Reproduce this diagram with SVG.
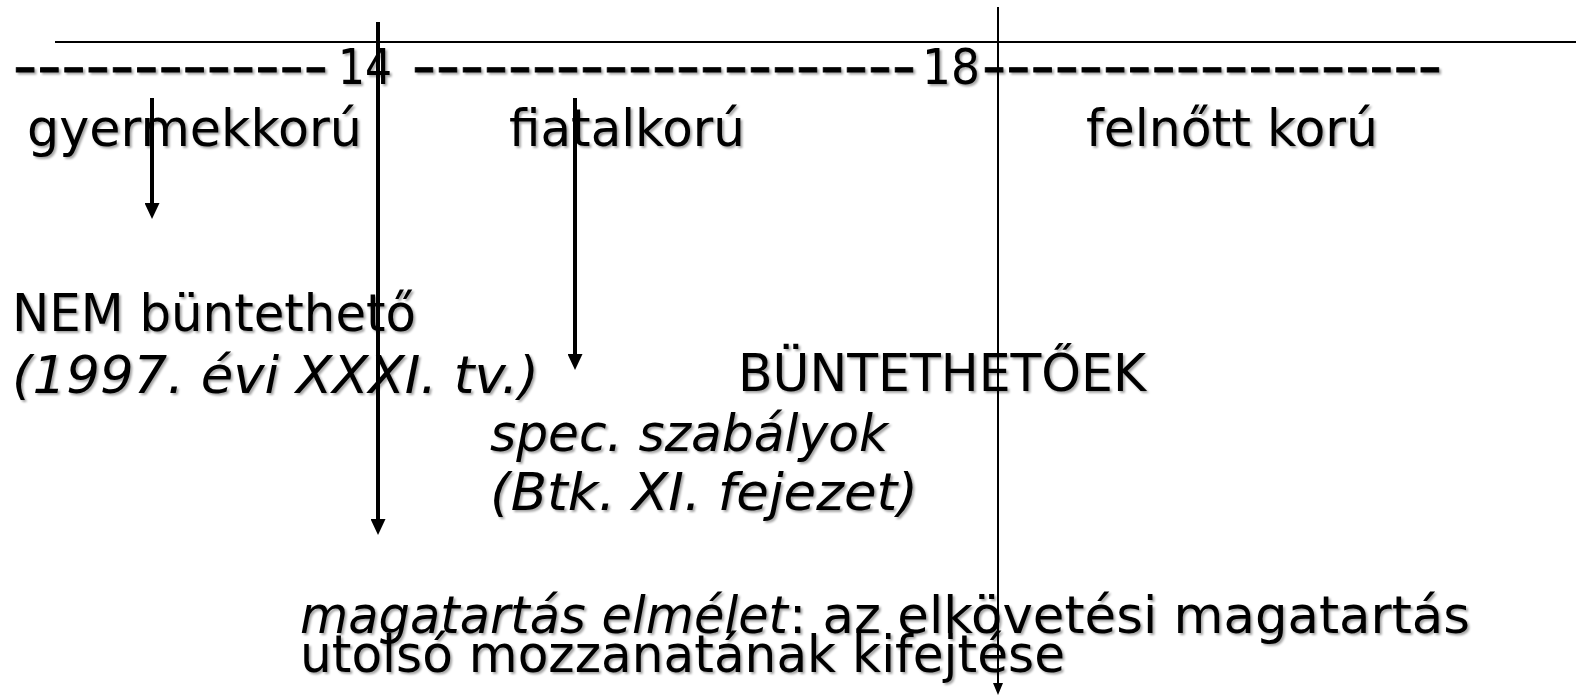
<svg xmlns="http://www.w3.org/2000/svg" width="1579" height="697" viewBox="0 0 1579 697">
<style>
  .t { font-family: "DejaVu Sans", Verdana, sans-serif; font-size: 52px; fill: #000; filter: url(#sh); }
  .i { font-style: italic; }
  .dash { font-family: "DejaVu Sans", Verdana, sans-serif; font-size: 56px; fill: #000; stroke: #000; stroke-width: 0.8; filter: url(#sh); }
  .num { font-family: "DejaVu Sans", Verdana, sans-serif; font-size: 50px; fill: #000; filter: url(#sh); }
  .thick { stroke: #000; stroke-width: 4; fill: none; }
  .thin { stroke: #000; stroke-width: 2; fill: none; }
</style>
<defs>
  <filter id="sh" x="-5%" y="-20%" width="110%" height="150%">
    <feDropShadow dx="2" dy="2" stdDeviation="1.3" flood-color="#000" flood-opacity="0.35"/>
  </filter>
  <marker id="ah" markerUnits="userSpaceOnUse" markerWidth="16" markerHeight="15" refX="5" refY="7.5" orient="auto">
    <path d="M0,0 L16,7.5 L0,15 z" fill="#000"/>
  </marker>
  <marker id="ahs" markerUnits="userSpaceOnUse" markerWidth="12" markerHeight="10" refX="4" refY="5" orient="auto">
    <path d="M0,0 L12,5 L0,10 z" fill="#000"/>
  </marker>
</defs>
<rect width="1579" height="697" fill="#fff"/>

<g id="scale">
  <line class="thin" x1="55" y1="42" x2="1576" y2="42"/>
  <text class="dash" x="13" y="85" textLength="315" lengthAdjust="spacingAndGlyphs">-------------</text>
  <text class="num" x="338" y="84" textLength="54" lengthAdjust="spacingAndGlyphs">14</text>
  <text class="dash" x="412" y="85" textLength="504" lengthAdjust="spacingAndGlyphs">---------------------</text>
  <text class="num" x="922" y="84" textLength="58" lengthAdjust="spacingAndGlyphs">18</text>
  <text class="dash" x="982" y="85" textLength="460" lengthAdjust="spacingAndGlyphs">-------------------</text>
</g>

<g id="gyermekkoru"><text class="t" x="27" y="146" textLength="335" lengthAdjust="spacingAndGlyphs">gyermekkorú</text></g>
<g id="fiatalkoru"><text class="t" x="509" y="146" textLength="236" lengthAdjust="spacingAndGlyphs">fiatalkorú</text></g>
<g id="felnott"><text class="t" x="1086" y="146" textLength="292" lengthAdjust="spacingAndGlyphs">felnőtt korú</text></g>

<g id="nem-buntetheto">
  <text class="t" x="12" y="331" textLength="404" lengthAdjust="spacingAndGlyphs">NEM büntethető</text>
  <text class="t i" x="12" y="393" textLength="527" lengthAdjust="spacingAndGlyphs">(1997. évi XXXI. tv.)</text>
</g>
<g id="buntethetoek"><text class="t" x="738" y="391" textLength="408" lengthAdjust="spacingAndGlyphs">BÜNTETHETŐEK</text></g>
<g id="spec">
  <text class="t i" x="490" y="451" textLength="398" lengthAdjust="spacingAndGlyphs">spec. szabályok</text>
  <text class="t i" x="490" y="510" textLength="428" lengthAdjust="spacingAndGlyphs">(Btk. XI. fejezet)</text>
</g>
<g id="magatartas">
  <text class="t i" x="300" y="633" textLength="488" lengthAdjust="spacingAndGlyphs">magatartás elmélet</text>
  <text class="t" x="789" y="633" textLength="681" lengthAdjust="spacingAndGlyphs">: az elkövetési magatartás</text>
  <text class="t" x="300" y="672" textLength="765" lengthAdjust="spacingAndGlyphs">utolsó mozzanatának kifejtése</text>
</g>

<g id="connectors">
  <line class="thick" x1="378" y1="22" x2="378" y2="524" marker-end="url(#ah)"/>
  <line class="thick" x1="152" y1="98" x2="152" y2="208" marker-end="url(#ah)"/>
  <line class="thick" x1="575" y1="98" x2="575" y2="359" marker-end="url(#ah)"/>
  <line class="thin" x1="998" y1="7" x2="998" y2="687" marker-end="url(#ahs)"/>
</g>
</svg>
